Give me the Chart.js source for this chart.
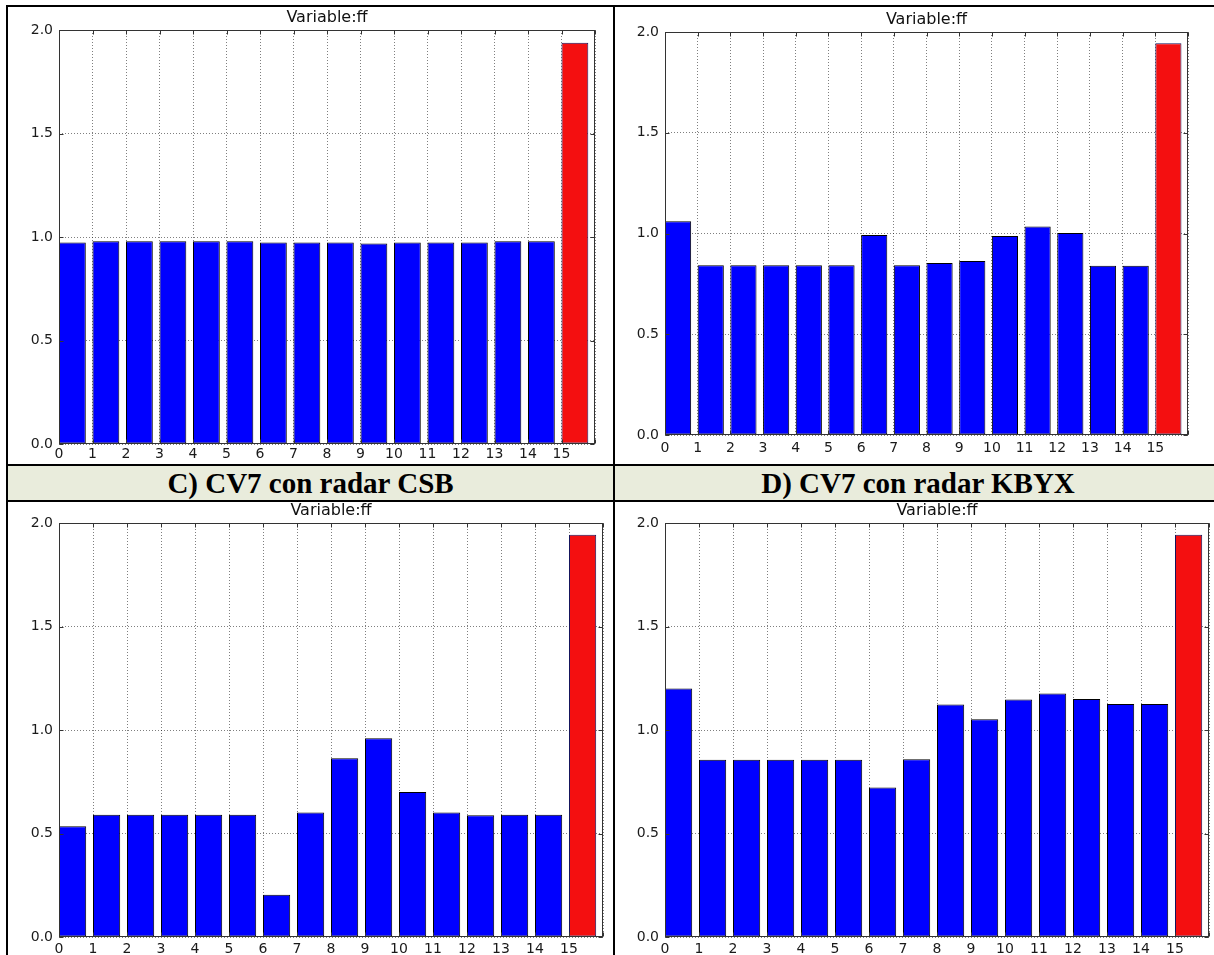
<!DOCTYPE html>
<html>
<head>
<meta charset="utf-8">
<title>Variable ff</title>
<script src="https://cdn.jsdelivr.net/npm/chart.js@4.4.1/dist/chart.umd.min.js"></script>
<style>
  html, body { margin: 0; padding: 0; background: #fff; }
  #page { position: relative; width: 1214px; height: 955px; overflow: hidden; background: #fff; }
  .rule { position: absolute; background: #000; }
  .cap {
    position: absolute; background: #e9ecdc; color: #000;
    font-family: "Liberation Serif", "Times New Roman", serif; font-weight: bold; font-size: 29px;
    display: flex; align-items: center; justify-content: center; white-space: nowrap;
  }
  canvas { position: absolute; }
</style>
</head>
<body>
<div id="page">
  <canvas id="panelA" width="605" height="457" style="left:8px;top:7px"></canvas>
  <canvas id="panelB" width="599" height="457" style="left:615px;top:7px"></canvas>
  <canvas id="panelC" width="605" height="453" style="left:8px;top:502px"></canvas>
  <canvas id="panelD" width="599" height="453" style="left:615px;top:502px"></canvas>

  <div class="cap" id="capC" style="left:8px;top:466px;width:605px;height:34px"></div>
  <div class="cap" id="capD" style="left:615px;top:466px;width:606px;height:34px"></div>

  <!-- table rules -->
  <div class="rule" style="left:6px;top:5px;width:1220px;height:2px"></div>
  <div class="rule" style="left:6px;top:5px;width:2px;height:960px"></div>
  <div class="rule" style="left:613px;top:5px;width:2px;height:960px"></div>
  <div class="rule" style="left:6px;top:464px;width:1220px;height:2px"></div>
  <div class="rule" style="left:6px;top:500px;width:1220px;height:2px"></div>
</div>

<script>
// bar slots along the x axis (each bar starts at its slot and is 0.8 wide)
const barSlots = [0, 1, 2, 3, 4, 5, 6, 7, 8, 9, 10, 11, 12, 13, 14, 15];
const xTickLabels = ['0', '1', '2', '3', '4', '5', '6', '7', '8', '9', '10', '11', '12', '13', '14', '15'];
const yTickLabels = ['0.0', '0.5', '1.0', '1.5', '2.0'];

// ff values per panel
const ffPanelA = [0.974, 0.979, 0.979, 0.979, 0.979, 0.979, 0.974, 0.974, 0.974, 0.969, 0.974, 0.974, 0.974, 0.979, 0.979, 1.939];
const ffPanelB = [1.061, 0.843, 0.843, 0.843, 0.843, 0.843, 0.993, 0.843, 0.853, 0.864, 0.987, 1.035, 1.002, 0.840, 0.840, 1.944];
const ffPanelC = [0.535, 0.591, 0.591, 0.591, 0.591, 0.591, 0.204, 0.601, 0.863, 0.960, 0.700, 0.601, 0.588, 0.591, 0.591, 1.943];
const ffPanelD = [1.200, 0.856, 0.856, 0.856, 0.856, 0.856, 0.722, 0.859, 1.123, 1.052, 1.147, 1.176, 1.150, 1.126, 1.126, 1.943];

const panelHeaders = ['C) CV7 con radar CSB', 'D) CV7 con radar KBYX'];
const axesTitle = 'Variable:ff';

document.getElementById('capC').textContent = panelHeaders[0];
document.getElementById('capD').textContent = panelHeaders[1];

const BAR_WIDTH = 0.8;
const BLUE = '#0000ff';
const RED = '#f40f10';
const FRAME = '#333333';
const TICK_TEXT = '#1a1a1a';
const GRID = 'rgba(0,0,0,0.5)';
const FONT = '"DejaVu Sans", Verdana, sans-serif';

// frame, inward tick marks and the axes title, drawn on top of the plot
const axesBox = {
  id: 'axesBox',
  afterDraw(chart, args, opts) {
    const { ctx, chartArea: a, scales: { x, y } } = chart;
    const L = Math.round(a.left) + 0.5, R = Math.round(a.right) - 0.5;
    const T = Math.round(a.top) + 0.5, B = Math.round(a.bottom) - 0.5;
    ctx.save();
    ctx.strokeStyle = FRAME;
    ctx.lineWidth = 1;
    ctx.beginPath();
    x.ticks.forEach(t => {
      const px = Math.round(x.getPixelForValue(t.value)) + 0.5;
      ctx.moveTo(px, B); ctx.lineTo(px, B - 4);
      ctx.moveTo(px, T); ctx.lineTo(px, T + 4);
    });
    y.ticks.forEach(t => {
      const py = Math.round(y.getPixelForValue(t.value)) + 0.5;
      ctx.moveTo(L, py); ctx.lineTo(L + 4, py);
      ctx.moveTo(R, py); ctx.lineTo(R - 4, py);
    });
    ctx.stroke();
    ctx.strokeRect(L, T, R - L, B - T);
    ctx.fillStyle = '#111';
    ctx.font = '16px ' + FONT;
    ctx.textAlign = 'center';
    ctx.textBaseline = 'middle';
    ctx.fillText(opts.text, (a.left + a.right) / 2, a.top - opts.titleGap);
    ctx.restore();
  }
};

function drawPanel(canvasId, values, box) {
  const points = barSlots.map((s, i) => ({ x: s + BAR_WIDTH / 2, y: values[i] }));
  const last = values.length - 1;
  new Chart(document.getElementById(canvasId), {
    type: 'bar',
    data: {
      datasets: [{
        data: points,
        backgroundColor: values.map((v, i) => i === last ? RED : BLUE),
        borderColor: values.map((v, i) => i === last ? '#15155c' : '#000000'),
        borderWidth: 1,
        borderSkipped: false,
        barPercentage: BAR_WIDTH,
        categoryPercentage: 1
      }]
    },
    options: {
      responsive: false,
      animation: false,
      devicePixelRatio: 1,
      events: [],
      layout: { padding: { left: 0, top: box.top, right: box.right, bottom: 0 } },
      plugins: {
        legend: { display: false },
        tooltip: { enabled: false },
        axesBox: { text: axesTitle, titleGap: 12 }
      },
      scales: {
        x: {
          type: 'linear', min: 0, max: 16, offset: false, z: 1,
          grid: { offset: false, color: GRID, lineWidth: 1, drawTicks: false },
          border: { display: false, dash: [1, 2] },
          ticks: {
            stepSize: 1, autoSkip: false, maxRotation: 0, minRotation: 0,
            padding: box.xGap, color: TICK_TEXT, font: { family: FONT, size: 14 },
            callback: v => xTickLabels[v] ?? ''
          },
          afterFit: s => { s.height = box.bottom; }
        },
        y: {
          type: 'linear', min: 0, max: 2, z: 1,
          grid: { color: GRID, lineWidth: 1, drawTicks: false },
          border: { display: false, dash: [1, 2] },
          ticks: {
            stepSize: 0.5, padding: 6, color: TICK_TEXT, font: { family: FONT, size: 14 },
            callback: v => yTickLabels[Math.round(v * 2)] ?? ''
          },
          afterFit: s => { s.width = box.left; }
        }
      }
    },
    plugins: [axesBox]
  });
}

drawPanel('panelA', ffPanelA, { left: 51, top: 23, right: 18, bottom: 20, xGap: 2 });
drawPanel('panelB', ffPanelB, { left: 50, top: 25, right: 26, bottom: 29, xGap: 5 });
drawPanel('panelC', ffPanelC, { left: 51, top: 21, right: 10, bottom: 18, xGap: 4 });
drawPanel('panelD', ffPanelD, { left: 50, top: 21, right: 5, bottom: 18, xGap: 4 });
</script>
</body>
</html>
